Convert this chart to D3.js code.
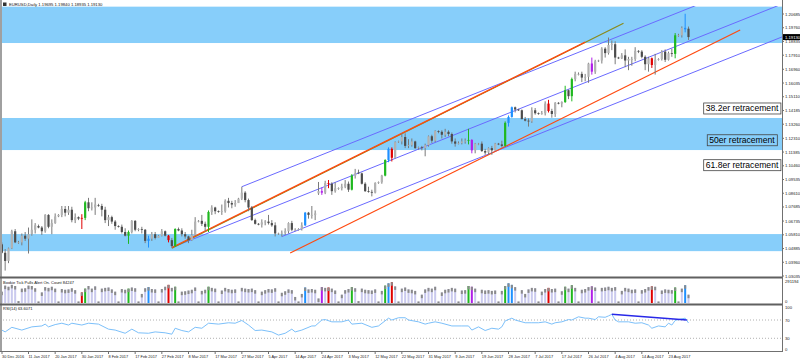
<!DOCTYPE html>
<html>
<head>
<meta charset="utf-8">
<script src="https://cdn.jsdelivr.net/npm/d3@7"></script>
<style>
  body { margin: 0; background: #fff; }
  svg { display: block; font-family: "Liberation Sans", Arial, sans-serif; }
</style>
</head>
<body>
<svg width="800" height="361"></svg>
<script>
// EURUSD daily, 30 Dec 2016 .. 30 Aug 2017 (broker with Sunday bars)
const candles = [
  [1.0494,1.0652,1.0454,1.0517],[1.0517,1.0530,1.0455,1.0460],[1.0460,1.0485,1.0340,1.0405],[1.0405,1.0495,1.0390,1.0490],
  [1.0490,1.0615,1.0485,1.0605],[1.0605,1.0620,1.0525,1.0530],[1.0530,1.0540,1.0520,1.0530],[1.0530,1.0590,1.0510,1.0575],
  [1.0575,1.0600,1.0540,1.0555],[1.0555,1.0630,1.0455,1.0585],[1.0585,1.0685,1.0575,1.0615],[1.0615,1.0660,1.0590,1.0645],
  [1.0640,1.0650,1.0625,1.0630],[1.0630,1.0640,1.0580,1.0605],[1.0605,1.0720,1.0595,1.0715],[1.0715,1.0720,1.0625,1.0635],
  [1.0635,1.0685,1.0585,1.0660],[1.0660,1.0725,1.0655,1.0705],[1.0705,1.0720,1.0700,1.0715],[1.0715,1.0775,1.0700,1.0755],
  [1.0755,1.0775,1.0705,1.0730],[1.0730,1.0775,1.0715,1.0750],[1.0750,1.0770,1.0665,1.0680],[1.0680,1.0725,1.0660,1.0700],
  [1.0700,1.0705,1.0680,1.0690],[1.0690,1.0720,1.0620,1.0695],[1.0695,1.0810,1.0680,1.0800],[1.0800,1.0830,1.0740,1.0760],
  [1.0760,1.0800,1.0745,1.0765],[1.0765,1.0830,1.0715,1.0785],[1.0780,1.0790,1.0770,1.0775],[1.0775,1.0790,1.0705,1.0750],
  [1.0750,1.0770,1.0660,1.0680],[1.0680,1.0715,1.0640,1.0700],[1.0700,1.0710,1.0655,1.0670],[1.0670,1.0680,1.0615,1.0640],
  [1.0640,1.0645,1.0630,1.0635],[1.0635,1.0650,1.0590,1.0600],[1.0600,1.0625,1.0570,1.0575],[1.0575,1.0610,1.0520,1.0600],
  [1.0600,1.0680,1.0590,1.0675],[1.0675,1.0680,1.0605,1.0615],[1.0615,1.0625,1.0605,1.0620],[1.0620,1.0635,1.0590,1.0615],
  [1.0615,1.0620,1.0525,1.0540],[1.0540,1.0575,1.0495,1.0555],[1.0555,1.0600,1.0540,1.0585],[1.0585,1.0600,1.0550,1.0560],
  [1.0560,1.0580,1.0560,1.0575],[1.0575,1.0620,1.0570,1.0605],[1.0605,1.0610,1.0570,1.0575],[1.0575,1.0580,1.0530,1.0545],
  [1.0545,1.0560,1.0495,1.0505],[1.0505,1.0625,1.0500,1.0620],[1.0620,1.0630,1.0605,1.0610],[1.0610,1.0625,1.0570,1.0585],
  [1.0585,1.0600,1.0555,1.0570],[1.0570,1.0575,1.0525,1.0545],[1.0545,1.0615,1.0540,1.0580],[1.0580,1.0700,1.0575,1.0670],
  [1.0670,1.0680,1.0665,1.0675],[1.0675,1.0715,1.0640,1.0655],[1.0655,1.0670,1.0605,1.0635],[1.0635,1.0745,1.0600,1.0735],
  [1.0735,1.0780,1.0715,1.0765],[1.0765,1.0770,1.0720,1.0740],[1.0740,1.0745,1.0730,1.0735],[1.0735,1.0785,1.0715,1.0740],
  [1.0740,1.0820,1.0730,1.0810],[1.0810,1.0830,1.0765,1.0795],[1.0795,1.0810,1.0760,1.0785],[1.0785,1.0815,1.0770,1.0795],
  [1.0795,1.0830,1.0795,1.0825],[1.0825,1.0905,1.0815,1.0865],[1.0865,1.0875,1.0800,1.0815],[1.0815,1.0825,1.0740,1.0765],
  [1.0765,1.0775,1.0675,1.0680],[1.0680,1.0690,1.0650,1.0655],[1.0655,1.0660,1.0645,1.0650],[1.0650,1.0685,1.0630,1.0665],
  [1.0665,1.0680,1.0645,1.0670],[1.0670,1.0715,1.0650,1.0660],[1.0660,1.0680,1.0635,1.0645],[1.0645,1.0665,1.0570,1.0590],
  [1.0590,1.0595,1.0580,1.0590],[1.0590,1.0610,1.0569,1.0595],[1.0595,1.0625,1.0580,1.0605],[1.0605,1.0665,1.0590,1.0660],
  [1.0660,1.0675,1.0605,1.0615],[1.0615,1.0625,1.0605,1.0615],[1.0615,1.0625,1.0610,1.0620],[1.0620,1.0665,1.0610,1.0645],
  [1.0645,1.0735,1.0640,1.0730],[1.0730,1.0735,1.0690,1.0715],[1.0715,1.0775,1.0690,1.0715],[1.0715,1.0745,1.0680,1.0725],
  [1.0860,1.0937,1.0850,1.0875],[1.0875,1.0900,1.0850,1.0865],[1.0865,1.0945,1.0855,1.0930],[1.0930,1.0950,1.0895,1.0925],
  [1.0925,1.0935,1.0850,1.0875],[1.0875,1.0935,1.0865,1.0895],[1.0895,1.0900,1.0885,1.0895],[1.0895,1.0925,1.0880,1.0905],
  [1.0905,1.0950,1.0895,1.0925],[1.0925,1.0940,1.0870,1.0885],[1.0885,1.0990,1.0880,1.0980],[1.0980,1.1025,1.0960,1.0995],
  [1.1000,1.1020,1.0990,1.0995],[1.0995,1.1000,1.0920,1.0925],[1.0925,1.0935,1.0870,1.0875],[1.0875,1.0905,1.0865,1.0870],
  [1.0870,1.0885,1.0840,1.0865],[1.0865,1.0935,1.0860,1.0930],[1.0930,1.0940,1.0925,1.0935],[1.0935,1.0985,1.0925,1.0980],
  [1.0980,1.1090,1.0975,1.1085],[1.1085,1.1170,1.1070,1.1160],[1.1160,1.1170,1.1075,1.1100],[1.1100,1.1210,1.1095,1.1205],
  [1.1205,1.1215,1.1200,1.1210],[1.1210,1.1265,1.1190,1.1240],[1.1240,1.1265,1.1165,1.1180],[1.1180,1.1225,1.1165,1.1185],
  [1.1185,1.1230,1.1175,1.1210],[1.1210,1.1215,1.1160,1.1165],[1.1165,1.1175,1.1155,1.1170],[1.1170,1.1180,1.1150,1.1165],
  [1.1165,1.1195,1.1110,1.1185],[1.1185,1.1250,1.1175,1.1245],[1.1245,1.1255,1.1200,1.1215],[1.1215,1.1285,1.1205,1.1280],
  [1.1280,1.1285,1.1265,1.1275],[1.1275,1.1285,1.1230,1.1255],[1.1255,1.1295,1.1240,1.1275],[1.1275,1.1285,1.1245,1.1260],
  [1.1260,1.1270,1.1195,1.1210],[1.1210,1.1230,1.1175,1.1195],[1.1195,1.1210,1.1190,1.1200],[1.1200,1.1230,1.1190,1.1210],
  [1.1210,1.1230,1.1195,1.1215],[1.1215,1.1295,1.1190,1.1220],[1.1220,1.1225,1.1130,1.1150],[1.1150,1.1200,1.1130,1.1195],
  [1.1195,1.1200,1.1185,1.1195],[1.1195,1.1210,1.1140,1.1145],[1.1145,1.1160,1.1120,1.1135],[1.1135,1.1170,1.1120,1.1165],
  [1.1165,1.1180,1.1120,1.1150],[1.1150,1.1200,1.1145,1.1195],[1.1195,1.1200,1.1185,1.1190],[1.1190,1.1215,1.1170,1.1180],
  [1.1180,1.1345,1.1175,1.1335],[1.1335,1.1385,1.1310,1.1375],[1.1375,1.1445,1.1370,1.1440],[1.1440,1.1445,1.1405,1.1425],
  [1.1425,1.1430,1.1415,1.1420],[1.1420,1.1425,1.1360,1.1360],[1.1360,1.1375,1.1345,1.1350],[1.1350,1.1365,1.1310,1.1345],
  [1.1345,1.1440,1.1335,1.1420],[1.1420,1.1435,1.1390,1.1400],[1.1400,1.1405,1.1390,1.1395],[1.1395,1.1415,1.1390,1.1400],
  [1.1400,1.1480,1.1385,1.1465],[1.1465,1.1490,1.1405,1.1415],[1.1415,1.1430,1.1370,1.1395],[1.1395,1.1475,1.1375,1.1470],
  [1.1470,1.1475,1.1460,1.1465],[1.1465,1.1480,1.1440,1.1475],[1.1475,1.1585,1.1470,1.1555],[1.1555,1.1560,1.1495,1.1515],
  [1.1515,1.1640,1.1480,1.1630],[1.1630,1.1680,1.1615,1.1665],[1.1665,1.1675,1.1655,1.1665],[1.1665,1.1680,1.1610,1.1640],
  [1.1640,1.1665,1.1615,1.1645],[1.1645,1.1740,1.1605,1.1735],[1.1735,1.1775,1.1660,1.1680],[1.1680,1.1760,1.1665,1.1750],
  [1.1750,1.1760,1.1745,1.1755],[1.1755,1.1845,1.1735,1.1835],[1.1835,1.1845,1.1775,1.1805],[1.1805,1.1910,1.1795,1.1860],
  [1.1860,1.1890,1.1825,1.1865],[1.1865,1.1885,1.1730,1.1775],[1.1775,1.1780,1.1765,1.1770],[1.1770,1.1805,1.1765,1.1790],
  [1.1790,1.1830,1.1710,1.1755],[1.1755,1.1780,1.1690,1.1765],[1.1765,1.1780,1.1720,1.1765],[1.1765,1.1845,1.1750,1.1820],
  [1.1820,1.1825,1.1805,1.1815],[1.1815,1.1825,1.1770,1.1780],[1.1780,1.1790,1.1690,1.1730],[1.1730,1.1780,1.1680,1.1770],
  [1.1770,1.1775,1.1705,1.1725],[1.1725,1.1800,1.1660,1.1760],[1.1760,1.1770,1.1755,1.1765],[1.1765,1.1825,1.1755,1.1815],
  [1.1815,1.1830,1.1745,1.1760],[1.1760,1.1815,1.1755,1.1805],[1.1805,1.1835,1.1780,1.1800],[1.1800,1.1940,1.1770,1.1925],
  [1.1925,1.1935,1.1915,1.1925],[1.1925,1.1985,1.1910,1.1975],[1.1975,1.2070,1.1945,1.1965],[1.19695,1.19840,1.18935,1.19130]
]

// tick volume, thousands
const volume = [
  200,150,230,215,240,225,25,190,195,230,225,195,20,140,210,200,215,190,20,185,175,180,195,170,20,140,190,225,190,220,
  20,190,200,205,180,150,20,185,175,190,205,195,20,120,195,210,185,180,20,185,215,240,200,215,20,150,155,165,175,205,
  20,160,175,215,200,190,20,165,200,185,175,180,20,200,190,185,190,170,20,150,170,185,180,195,20,135,155,180,170,80,
  20,120,205,180,185,175,60,210,200,205,190,165,20,110,170,185,210,195,25,190,175,170,165,180,20,160,230,260,275,220,
  20,190,205,180,175,160,20,110,180,200,190,215,20,140,175,185,200,190,20,165,170,225,215,190,20,175,165,170,160,165,
  20,160,225,260,240,210,20,170,120,180,200,195,20,150,185,200,185,190,20,155,215,190,235,200,20,175,185,210,220,205,
  20,200,205,215,200,210,20,160,200,190,175,180,20,170,185,210,220,215,20,165,180,175,170,205,20,190,235,110
]

// bars flagged by the "Bookie Tick Pulls" indicator
const signalBars = [
  [25,"sell"],[26,"buy"],[39,"buy"],[45,"climax"],[51,"sell"],[53,"buy"],[63,"buy"],[92,"climax"],[97,"reversal"],
  [99,"sell"],[106,"buy"],[116,"buy"],[117,"climax"],[118,"sell"],[141,"buy"],[142,"reversal"],[152,"buy"],
  [153,"climax"],[154,"climax"],[165,"sell"],[170,"buy"],[172,"buy"],[178,"reversal"],[196,"sell"],[203,"buy"],[206,"climax"]
]

// RSI(14): [bar, value]
const rsi = [
  [1,48],[2,44],[4,54],[7,48],[10,55],[13,57],[14,61],[15,55],[17,60],[19,63],[21,59],[22,63],[25,59],[27,63],[30,61],
  [33,50],[35,48],[38,41],[40,50],[42,42],[45,41],[47,44],[50,42],[52,39],[53,52],[55,47],[57,44],[59,54],[61,52],[63,63],
  [66,61],[69,64],[71,63],[73,69],[75,59],[77,47],[79,48],[82,44],[84,37],[86,41],[88,50],[89,44],[91,48],[94,57],[95,57],
  [97,70],[98,71],[100,66],[103,66],[105,70],[106,61],[109,63],[112,54],[114,57],[117,74],[118,70],[120,75],[122,75],
  [123,70],[126,66],[128,61],[129,63],[131,66],[133,63],[136,57],[139,57],[141,57],[142,48],[144,55],[146,47],[148,52],
  [150,50],[151,55],[152,68],[154,74],[155,70],[158,64],[160,64],[162,64],[164,66],[166,61],[167,64],[169,66],[171,71],
  [172,70],[174,77],[176,74],[177,74],[179,71],[180,77],[182,76],[183,79],[184,82.5],[185,70],[186,66],[189,66],[191,63],
  [193,64],[195,59],[196,52],[198,57],[200,55],[201,63],[202,59],[203,69],[204,71],[206,74],[207,63.6071]
]

const priceTicks = ["1.20685","1.19760","1.18835","1.17910","1.16960","1.16035","1.15110","1.14185","1.13260","1.12310",
  "1.11385","1.10460","1.09535","1.08610","1.07685","1.06735","1.05810","1.04885","1.03960","1.03035"]

const dateTicks = [[0,"30 Dec 2016"],[9,"11 Jan 2017"],[17,"20 Jan 2017"],[25,"30 Jan 2017"],[33,"8 Feb 2017"],
  [41,"17 Feb 2017"],[49,"27 Feb 2017"],[57,"8 Mar 2017"],[65,"17 Mar 2017"],[73,"27 Mar 2017"],[81,"5 Apr 2017"],
  [89,"14 Apr 2017"],[97,"24 Apr 2017"],[105,"3 May 2017"],[113,"12 May 2017"],[121,"22 May 2017"],[129,"31 May 2017"],
  [137,"9 Jun 2017"],[145,"19 Jun 2017"],[153,"28 Jun 2017"],[161,"7 Jul 2017"],[169,"17 Jul 2017"],[177,"26 Jul 2017"],
  [185,"4 Aug 2017"],[193,"14 Aug 2017"],[201,"23 Aug 2017"]]

// supply / demand zones [top, bottom]
const zones = [[1.2118, 1.1873], [1.1368, 1.1152], [1.0586, 1.0471]]

// retracement labels [price, text]
const retracements = [[1.1432, "38.2er retracement"], [1.1218, "50er retracement"], [1.1050, "61.8er retracement"]]

// Andrews pitchfork pivots [bar, price]: 2 Mar low, 27 Mar high, 10 Apr low
const pitchfork = [[52, 1.0495], [73, 1.0905], [85, 1.0569]]

// trend lines [bar1, price1, bar2, price2, kind]
const trendLines = [
  [52, 1.0490, 187.5, 1.2006, "olive"],
  [52, 1.0495, 176, 1.1879, "trend"],
  [87.5, 1.0458, 222.5, 1.1961, "trend"]
]

// RSI divergence line [bar1, rsi1, bar2, rsi2]
const rsiLine = [184, 82.5, 206.5, 70]

const lastBar = ["1.19695", "1.19840", "1.18935", "1.19130"]

const svg = d3.select("svg")

const plotRight = 782
const mainTop = 6, mainBottom = 277, volTop = 279, volBottom = 304, rsiTop = 305, rsiBottom = 351

const x = d3.scaleLinear().domain([0, 207]).range([-1.5, 688.5])
const y = d3.scaleLinear().domain([1.03035, 1.20685]).range([276, 14])
const yVol = d3.scaleLinear().domain([0, 291.194]).range([303, 281])
const yRsi = d3.scaleLinear().domain([0, 100]).range([352, 306.3])

const signalColor = { buy: "#1fb81f", sell: "#e00000", climax: "#1e90ff", reversal: "#b01ee8" }
const sigMap = new Map(signalBars)
const lineColor = { trend: "#ff4a10", olive: "#8a8a1a" }

const defs = svg.append("defs")
const clip = (id, y0, y1) => defs.append("clipPath").attr("id", id)
  .append("rect").attr("x", 0).attr("y", y0).attr("width", plotRight).attr("height", y1 - y0)
clip("cMain", mainTop, mainBottom)
clip("cVol", volTop, volBottom)
clip("cRsi", rsiTop, rsiBottom)

// ---- main pane
const main = svg.append("g").attr("clip-path", "url(#cMain)")

main.selectAll("rect.zone")
  .data(zones)
  .enter()
  .append("rect")
  .attr("class", "zone")
  .attr("x", 0)
  .attr("width", plotRight)
  .attr("y", d => y(d[0]))
  .attr("height", d => y(d[1]) - y(d[0]))
  .style("fill", "#87cefa")

// pitchfork: median from pivot 1 through the middle of pivots 2 and 3, parallels from 2 and 3
const mid = [(pitchfork[1][0] + pitchfork[2][0]) / 2, (pitchfork[1][1] + pitchfork[2][1]) / 2]
const slope = (mid[1] - pitchfork[0][1]) / (mid[0] - pitchfork[0][0])
const edgeBar = x.invert(plotRight)

main.selectAll("line.fork")
  .data(pitchfork)
  .enter()
  .append("line")
  .attr("class", "fork")
  .attr("x1", d => x(d[0]))
  .attr("y1", d => y(d[1]))
  .attr("x2", x(edgeBar))
  .attr("y2", d => y(d[1] + slope * (edgeBar - d[0])))
  .style("stroke", "#6a6aff")
  .style("stroke-width", 1)

main.selectAll("line.obj")
  .data(trendLines)
  .enter()
  .append("line")
  .attr("class", "obj")
  .attr("x1", d => x(d[0]))
  .attr("y1", d => y(d[1]))
  .attr("x2", d => x(d[2]))
  .attr("y2", d => y(d[3]))
  .style("stroke", d => lineColor[d[4]])
  .style("stroke-width", 1.2)

const bars = main.selectAll("g.bar")
  .data(candles)
  .enter()
  .append("g")
  .attr("class", "bar")

bars.append("line")
  .attr("x1", (d, i) => x(i))
  .attr("x2", (d, i) => x(i))
  .attr("y1", d => y(d[1]))
  .attr("y2", d => y(d[2]))
  .style("stroke", (d, i) => sigMap.has(i) ? signalColor[sigMap.get(i)] : "#7a7a7a")
  .style("stroke-width", 1)

bars.append("rect")
  .attr("x", (d, i) => x(i) - 1.1)
  .attr("width", 2.2)
  .attr("y", d => y(Math.max(d[0], d[3])))
  .attr("height", d => Math.max(0.8, Math.abs(y(d[0]) - y(d[3]))))
  .style("fill", (d, i) => sigMap.has(i) ? signalColor[sigMap.get(i)] : (d[3] >= d[0] ? "#b2b2b2" : "#4c4c4c"))

// retracement labels
const ret = svg.selectAll("g.ret")
  .data(retracements)
  .enter()
  .append("g")
  .attr("class", "ret")

ret.append("text")
  .attr("x", 742)
  .attr("y", d => y(d[0]) + 3)
  .attr("text-anchor", "middle")
  .style("font-size", "8.6px")
  .style("fill", "#000")
  .text(d => d[1])
  .each(function() {
    const b = this.getBBox()
    d3.select(this.parentNode).insert("rect", "text")
      .attr("x", b.x - 2).attr("y", b.y - 0.5)
      .attr("width", b.width + 4).attr("height", b.height + 1)
      .style("fill", "none").style("stroke", "#444").style("stroke-width", 0.8)
  })

// ---- volume pane
const vol = svg.append("g").attr("clip-path", "url(#cVol)")
const vb = vol.selectAll("g.vol")
  .data(volume)
  .enter()
  .append("g")
  .attr("class", "vol")

vb.append("rect")
  .attr("x", (d, i) => x(i) - 1)
  .attr("width", 2)
  .attr("y", d => yVol(d))
  .attr("height", d => yVol(0) - yVol(d))
  .style("fill", (d, i) => sigMap.has(i) ? signalColor[sigMap.get(i)] : "#cacaee")

vb.append("rect")
  .attr("x", (d, i) => x(i) - 1)
  .attr("width", 2)
  .attr("y", d => yVol(d))
  .attr("height", d => Math.min(3.5, yVol(0) - yVol(d)))
  .style("fill", "#8a8a8a")

// ---- RSI pane
const rp = svg.append("g").attr("clip-path", "url(#cRsi)")
rp.selectAll("line.lvl")
  .data([70, 30])
  .enter()
  .append("line")
  .attr("x1", 0).attr("x2", plotRight)
  .attr("y1", d => yRsi(d)).attr("y2", d => yRsi(d))
  .style("stroke", "#b0b0b0")
  .style("stroke-dasharray", "1,2")

rp.append("path")
  .datum(rsi)
  .attr("d", d3.line().x(d => x(d[0])).y(d => yRsi(d[1])))
  .style("fill", "none")
  .style("stroke", "#7cc0fa")
  .style("stroke-width", 1)

rp.append("line")
  .attr("x1", x(rsiLine[0])).attr("y1", yRsi(rsiLine[1]))
  .attr("x2", x(rsiLine[2])).attr("y2", yRsi(rsiLine[3]))
  .style("stroke", "#2828e8")
  .style("stroke-width", 1.6)

// ---- frame
const frame = svg.append("g")
frame.append("rect").attr("x", 0).attr("y", 0).attr("width", 2).attr("height", 352).style("fill", "#a0a0a0")
frame.append("line").attr("x1", plotRight + 0.5).attr("x2", plotRight + 0.5).attr("y1", 0).attr("y2", 352)
  .style("stroke", "#707070")
frame.selectAll("line.sep")
  .data([277.5, 304.5])
  .enter()
  .append("line")
  .attr("x1", 0).attr("x2", plotRight)
  .attr("y1", d => d).attr("y2", d => d)
  .style("stroke", "#606060").style("stroke-width", 2)
frame.append("line").attr("x1", 0).attr("x2", plotRight + 1).attr("y1", 351.5).attr("y2", 351.5)
  .style("stroke", "#707070")

// price axis
const pa = svg.append("g")
pa.selectAll("text")
  .data(priceTicks)
  .enter()
  .append("text")
  .attr("x", 785)
  .attr("y", d => y(+d) + 1.5)
  .style("font-size", "4.2px")
  .style("fill", "#222")
  .text(d => d)
pa.selectAll("line")
  .data(priceTicks)
  .enter()
  .append("line")
  .attr("x1", plotRight).attr("x2", plotRight + 2)
  .attr("y1", d => y(+d)).attr("y2", d => y(+d))
  .style("stroke", "#707070")

// last price tag
pa.append("rect").attr("x", 783).attr("y", y(+lastBar[3]) - 3).attr("width", 17).attr("height", 6).style("fill", "#000")
pa.append("text").attr("x", 785).attr("y", y(+lastBar[3]) + 1.5)
  .style("font-size", "4.2px").style("fill", "#fff").text(lastBar[3])

// volume / rsi scale labels
const side = [[yVol(291.194), "291194"], [yVol(0) - 2, "0"], [yRsi(100) + 1, "100"], [yRsi(70), "70"], [yRsi(30), "30"], [yRsi(0) - 3, "0"]]
svg.selectAll("text.side")
  .data(side)
  .enter()
  .append("text")
  .attr("class", "side")
  .attr("x", 785)
  .attr("y", d => d[0] + 1.5)
  .style("font-size", "4.2px")
  .style("fill", "#222")
  .text(d => d[1])

// date axis
const da = svg.append("g")
da.selectAll("text")
  .data(dateTicks)
  .enter()
  .append("text")
  .attr("x", d => Math.max(2, x(d[0])))
  .attr("y", 357.5)
  .style("font-size", "3.9px")
  .style("fill", "#222")
  .text(d => d[1])
da.selectAll("line")
  .data(dateTicks)
  .enter()
  .append("line")
  .attr("x1", d => Math.max(2, x(d[0]))).attr("x2", d => Math.max(2, x(d[0])))
  .attr("y1", 352).attr("y2", 354)
  .style("stroke", "#707070")

// captions
svg.append("rect").attr("x", 3).attr("y", 2.5).attr("width", 3.5).attr("height", 3.5).style("fill", "#333")
svg.append("text").attr("x", 9).attr("y", 6).style("font-size", "4.2px").style("fill", "#111")
  .text("EURUSD,Daily  " + lastBar.join(" "))
svg.append("text").attr("x", 3).attr("y", 283.5).style("font-size", "4px").style("fill", "#111")
  .text("Bookie Tick Pulls     Alert On.    Count 84247")
svg.append("text").attr("x", 3).attr("y", 310).style("font-size", "4px").style("fill", "#111")
  .text("RSI(14) " + rsi[rsi.length - 1][1].toFixed(4))
</script>
</body>
</html>
